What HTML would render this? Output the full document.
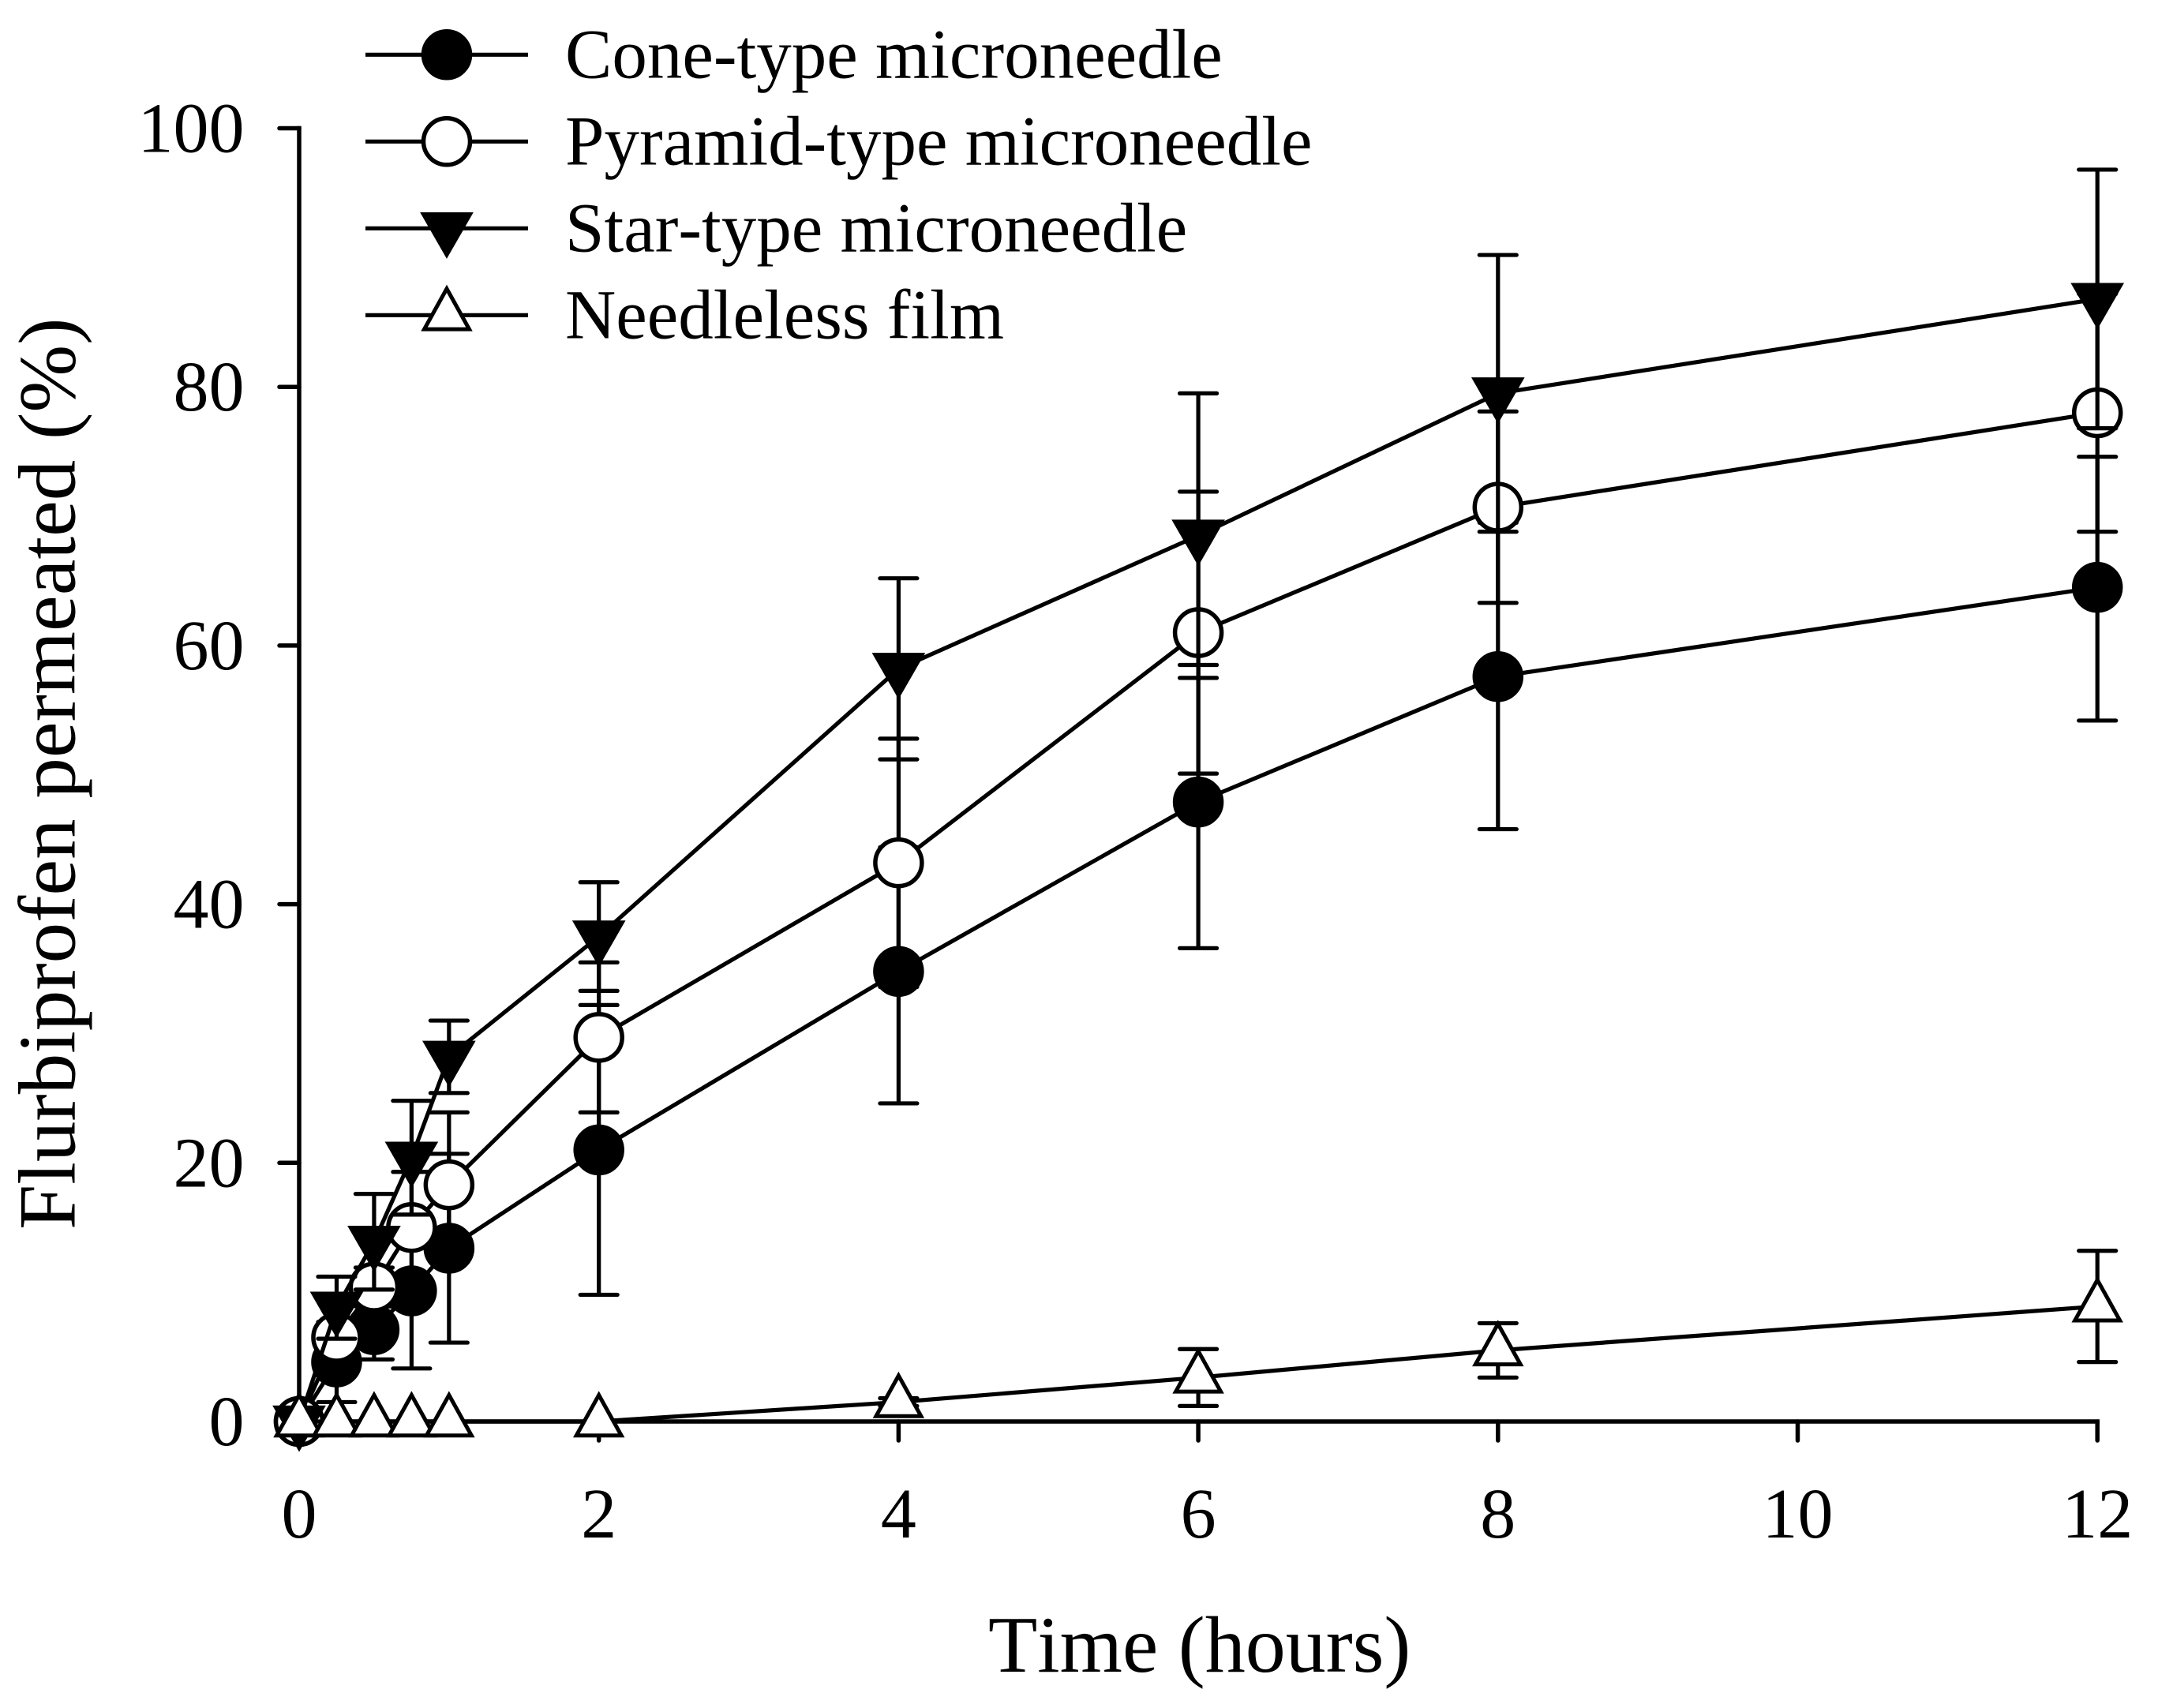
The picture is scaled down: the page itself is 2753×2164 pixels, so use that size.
<!DOCTYPE html>
<html lang="en">
<head>
<meta charset="utf-8">
<title>Flurbiprofen permeation chart</title>
<style>
html,body{margin:0;padding:0;background:#fff;}
svg{display:block;}
text{font-family:"Liberation Serif",serif;fill:#000;font-kerning:none;}
</style>
</head>
<body>
<svg id="chart" xmlns="http://www.w3.org/2000/svg" width="2753" height="2164" viewBox="0 0 2753 2164">
  <rect x="0" y="0" width="2753" height="2164" fill="#fff"/>
  <g id="axes"></g>
  <g id="plot"></g>
  <text x="1252" y="2118" font-size="102">Time (hours)</text>
  <text x="94.5" y="1558" font-size="103" transform="rotate(-90 94.5 1558)">Flurbiprofen permeated (%)</text>
  <g id="legend"></g>
</svg>
<script>
const times = [0, 0.25, 0.5, 0.75, 1, 2, 4, 6, 8, 12];
const coneMeans = [0, 4.6, 7.1, 10.1, 13.4, 21, 34.8, 47.9, 57.6, 64.5];
const coneLowerErrors = [0, 3.1, 2.3, 6, 7.3, 11.2, 10.2, 11.3, 11.8, 10.3];
const coneUpperErrors = [0, 3.1, 2.3, 6, 7.3, 11.2, 9.6, 10.6, 11.9, 10.1];
const pyramidMeans = [0, 6.5, 10.4, 15, 18.3, 29.7, 43.2, 61, 70.7, 78];
const pyramidErrors = [0, 1, 1.5, 4.3, 5.6, 5.8, 9.6, 10.9, 7.4, 9.2];
const starMeans = [0, 8.8, 13.9, 20.4, 28.2, 37.5, 58.2, 68.5, 79.5, 86.8];
const starErrors = [0, 2.4, 3.7, 4.4, 2.8, 4.2, 7, 11, 10.7, 10];
const filmMeans = [0, 0, 0, 0, 0, 0, 1.5, 3.4, 5.5, 8.9];
const filmErrors = [0, 0, 0, 0, 0, 0, 0.3, 2.2, 2.1, 4.3];
const xTickValues = [0, 2, 4, 6, 8, 10, 12];
const yTickValues = [0, 20, 40, 60, 80, 100];
const legendLabels = ['Cone-type microneedle', 'Pyramid-type microneedle', 'Star-type microneedle', 'Needleless film'];

const NS = 'http://www.w3.org/2000/svg';
const X0 = 379, X_PER_HOUR = 189.85, Y0 = 1801, Y_PER_UNIT = 16.385;
const xScale = function (t) { return X0 + X_PER_HOUR * t; };
const yScale = function (v) { return Y0 - Y_PER_UNIT * v; };
const axes = document.getElementById('axes');
const plot = document.getElementById('plot');
const legend = document.getElementById('legend');

function line(x1, y1, x2, y2, w, cap) {
  const el = document.createElementNS(NS, 'line');
  el.setAttribute('x1', x1);
  el.setAttribute('y1', y1);
  el.setAttribute('x2', x2);
  el.setAttribute('y2', y2);
  el.setAttribute('stroke', '#000');
  el.setAttribute('stroke-width', w);
  el.setAttribute('stroke-linecap', cap || 'butt');
  return el;
}

/* Axes */
const xAxis = line(xScale(0), yScale(0), xScale(12), yScale(0), 5.5, 'square');


axes.appendChild(xAxis);
const yAxis = line(xScale(0), yScale(0), xScale(0), yScale(100), 5.5, 'square');


axes.appendChild(yAxis);

xTickValues.forEach(function (v) {
  const tick = line(xScale(v), yScale(0), xScale(v), yScale(0) + 24, 5.5, 'round');
  
  
  axes.appendChild(tick);
  const label = document.createElementNS(NS, 'text');
  
  
  label.setAttribute('x', xScale(v));
  label.setAttribute('y', 1948);
  label.setAttribute('font-size', 90);
  label.setAttribute('text-anchor', 'middle');
  label.textContent = String(v);
  axes.appendChild(label);
});

yTickValues.forEach(function (v) {
  const tick = line(xScale(0) - 25, yScale(v), xScale(0), yScale(v), 5.5, 'round');
  
  
  axes.appendChild(tick);
  const label = document.createElementNS(NS, 'text');
  
  
  label.setAttribute('x', 309.5);
  label.setAttribute('y', yScale(v) + 30);
  label.setAttribute('font-size', 90);
  label.setAttribute('text-anchor', 'end');
  label.textContent = String(v);
  axes.appendChild(label);
});

/* Marker builder: kind is circle-filled, circle-open, tri-down, tri-up */
function marker(kind, cx, cy) {
  let el;
  if (kind === 'circle-filled' || kind === 'circle-open') {
    el = document.createElementNS(NS, 'circle');
    el.setAttribute('cx', cx);
    el.setAttribute('cy', cy);
    el.setAttribute('r', 29.5);
    el.setAttribute('stroke', '#000');
    el.setAttribute('stroke-width', 5.5);
    el.setAttribute('fill', kind === 'circle-open' ? '#fff' : '#000');
  } else {
    const dir = kind === 'tri-up' ? 1 : -1;
    const hw = kind === 'tri-up' ? 28.5 : 29.5;
    const pts = [
      [cx, cy - dir * 33.5],
      [cx + hw, cy + dir * 17.8],
      [cx - hw, cy + dir * 17.8]
    ];
    el = document.createElementNS(NS, 'polygon');
    el.setAttribute('points', pts.map(function (p) { return p[0] + ',' + p[1]; }).join(' '));
    el.setAttribute('stroke', '#000');
    el.setAttribute('stroke-width', 5);
    el.setAttribute('stroke-linejoin', 'miter');
    el.setAttribute('fill', kind === 'tri-up' ? '#fff' : '#000');
  }
  return el;
}

function drawSeries(key, kind, means, lowerErrors, upperErrors) {
  const group = document.createElementNS(NS, 'g');
  
  
  plot.appendChild(group);

  times.forEach(function (t, i) {
    if (lowerErrors[i] <= 0 && upperErrors[i] <= 0) { return; }
    const x = xScale(t);
    const top = yScale(means[i] + upperErrors[i]);
    const bottom = yScale(means[i] - lowerErrors[i]);
    const stem = line(x, top, x, bottom, 5.2, 'butt');
    
    
    group.appendChild(stem);
    const capTop = line(x - 23.5, top, x + 23.5, top, 5.2, 'round');
    
    
    group.appendChild(capTop);
    const capBottom = line(x - 23.5, bottom, x + 23.5, bottom, 5.2, 'round');
    
    
    group.appendChild(capBottom);
  });

  const path = document.createElementNS(NS, 'polyline');
  
  
  path.setAttribute('points', times.map(function (t, i) { return xScale(t) + ',' + yScale(means[i]); }).join(' '));
  path.setAttribute('fill', 'none');
  path.setAttribute('stroke', '#000');
  path.setAttribute('stroke-width', 5.2);
  group.appendChild(path);

  times.forEach(function (t, i) {
    const m = marker(kind, xScale(t), yScale(means[i]));
    
    
    group.appendChild(m);
  });
}

drawSeries('cone-type', 'circle-filled', coneMeans, coneLowerErrors, coneUpperErrors);
drawSeries('pyramid-type', 'circle-open', pyramidMeans, pyramidErrors, pyramidErrors);
drawSeries('star-type', 'tri-down', starMeans, starErrors, starErrors);
drawSeries('needleless-film', 'tri-up', filmMeans, filmErrors, filmErrors);

/* Legend */
const legendKinds = ['circle-filled', 'circle-open', 'tri-down', 'tri-up'];
legendLabels.forEach(function (text, i) {
  const y = 69.3 + i * 110;
  const entry = document.createElementNS(NS, 'g');
  
  
  legend.appendChild(entry);
  const sample = line(463, y, 669, y, 5.2, 'butt');
  
  
  entry.appendChild(sample);
  const m = marker(legendKinds[i], 566, y);
  
  
  entry.appendChild(m);
  const label = document.createElementNS(NS, 'text');
  
  
  label.setAttribute('x', 716);
  label.setAttribute('y', y + 29.4);
  label.setAttribute('font-size', 89);
  label.textContent = text;
  entry.appendChild(label);
});
</script>
</body>
</html>
